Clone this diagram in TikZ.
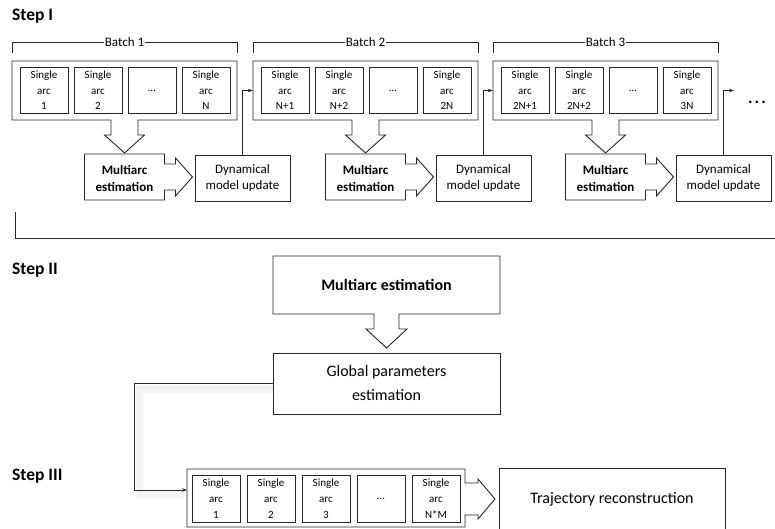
\documentclass[tikz,border=0pt]{standalone}
\usepackage{fontspec}
\setmainfont{Carlito}
\usetikzlibrary{arrows.meta,calc}
\tikzset{
  ln/.style={draw=black!85, line width=0.9pt},
  ghost/.style={inner sep=0pt, align=center},
  box/.style={ln, inner sep=0pt, align=center},
  arcbox/.style={box, minimum width=48pt, minimum height=46pt, font=\fontsize{11}{15.5}\selectfont},
  arcboxs/.style={box, minimum width=48pt, minimum height=47pt, font=\fontsize{11}{16}\selectfont},
  dynbox/.style={box, minimum width=95pt, minimum height=46pt, font=\fontsize{13}{16}\selectfont},
  mtext/.style={ghost, font=\bfseries\fontsize{13}{17}\selectfont},
  lbl/.style={fill=white, inner sep=1pt, font=\fontsize{13}{15}\selectfont},
  stepl/.style={anchor=west, inner sep=0pt, font=\bfseries\fontsize{17.5}{19}\selectfont},
  arr/.style={ln, -{Stealth[length=5pt,width=3.5pt]}}
}
\begin{document}
\begin{tikzpicture}[x=1pt,y=-1pt]
\useasboundingbox (0,0) rectangle (775,529);
% ---------- Step I ----------
\node[stepl] (s1) at (12,16) {Step I};
\foreach \L/\k/\na/\nb/\nd in {12/1/1/2/N,253/2/N+1/N+2/2N,493/3/2N+1/2N+2/3N}{
  \pgfmathsetmacro\cx{\L+112.5}
  \draw[ln] (\L,53) -- (\L,42) -- (\L+225,42) -- (\L+225,53);
  \node[lbl] (bl\k) at (\cx,42) {Batch \k};
  \node[ghost, minimum width=225pt, minimum height=59pt] (c\k) at (\cx,90.5) {};
  \draw[ln, line join=miter] (\L,61) -- (\L+225,61) -- (\L+225,120) -- (\cx+13.5,120) -- (\cx+13.5,135) -- (\cx+20,135) -- (\cx,153) -- (\cx-20,135) -- (\cx-13.5,135) -- (\cx-13.5,120) -- (\L,120) -- cycle;
  \node[arcbox] (a\k a) at (\L+32,90.5) {Single\\arc\\\na};
  \node[arcbox] (a\k b) at (\L+86,90.5) {Single\\arc\\\nb};
  \node[arcbox] (a\k c) at (\L+140,90.5) {\ldots};
  \node[arcbox] (a\k d) at (\L+194,90.5) {Single\\arc\\\nd};
  \draw[ln, line join=miter] (\cx-40,154) -- (\cx+40,154) -- (\cx+40,164) -- (\cx+51,164) -- (\cx+51,158) -- (\cx+68,177) -- (\cx+51,196) -- (\cx+51,190) -- (\cx+40,190) -- (\cx+40,200) -- (\cx-40,200) -- cycle;
  \node[mtext] (m\k) at (\cx,178.5) {Multiarc\\estimation};
  \node[dynbox] (d\k) at (\cx+118,178) {Dynamical\\model update};
}
\coordinate (more) at (734,90.5);
\draw[arr] (d1.north) |- (c2.west);
\draw[arr] (d2.north) |- (c3.west);
\draw[arr] (d3.north) |- (more);
\node[inner sep=0pt, font=\bfseries\fontsize{17}{18}\selectfont] (dots) at (757,102) {.\hspace{2pt}.\hspace{2pt}.};
\draw[ln] (15,212) -- (15,238) -- (775,238);
% ---------- Step II ----------
\node[stepl] (s2) at (12,270) {Step II};
\node[ghost, minimum width=227pt, minimum height=58pt, font=\bfseries\fontsize{16}{19}\selectfont] (ma) at (386.5,285) {Multiarc estimation};
\draw[ln, line join=miter] (273,256) -- (500,256) -- (500,314) -- (399,314) -- (399,329) -- (407,329) -- (386.5,348) -- (366,329) -- (374,329) -- (374,314) -- (273,314) -- cycle;
\node[box, minimum width=227pt, minimum height=61pt, font=\fontsize{16}{24}\selectfont] (gp) at (386.5,383.5) {Global parameters\\estimation};
% ---------- Step III ----------
\node[stepl] (s3) at (12,476) {Step III};
\node[ghost, minimum width=278pt, minimum height=58pt] (c4) at (326,498) {};
\draw[ln, line join=miter] (187,469) -- (465,469) -- (465,483) -- (478,483) -- (478,479) -- (495,499) -- (478,519) -- (478,515) -- (465,515) -- (465,527) -- (187,527) -- cycle;
\node[arcboxs] (b1) at (216,498.5) {Single\\arc\\1};
\node[arcboxs] (b2) at (271,498.5) {Single\\arc\\2};
\node[arcboxs] (b3) at (326,498.5) {Single\\arc\\3};
\node[arcboxs] (b4) at (381,498.5) {\ldots};
\node[arcboxs] (b5) at (436,498.5) {Single\\arc\\N*M};
\node[box, minimum width=226pt, minimum height=62pt, font=\fontsize{16}{19}\selectfont] (tr) at (612,499) {Trajectory reconstruction};
\coordinate (in3) at (187,490);
\draw[black!3, line width=8pt] (273,389) -- (140,389) -- (140,495) -- (183,495);
\draw[black!5, line width=4pt] (273,388) -- (139,388) -- (139,494) -- (184,494);
\draw[arr] (gp.west) -- ++(-138,0) |- (in3);
\end{tikzpicture}
\end{document}
